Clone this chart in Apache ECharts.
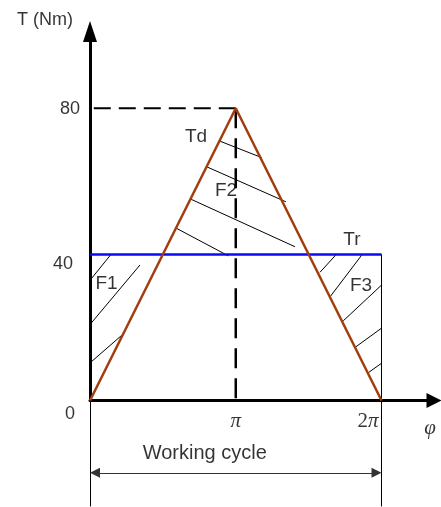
<!DOCTYPE html>
<html><head><meta charset="utf-8">
<script src="https://cdn.jsdelivr.net/npm/echarts@6/dist/echarts.min.js"></script>
<style>html,body{margin:0;padding:0;background:#fff}#c{width:441px;height:507px}</style>
</head><body><div id="c"></div>
<script>
// ---- data (x in units of π rad, y in Nm) ----
const tdCurve = [[0, 0], [1, 80], [2, 0]];        // driving torque Td
const trLevel = [[0, 40], [2, 40]];               // resisting torque Tr
const peakGuideH = [[1, 80], [0, 80]];
const peakGuideV = [[1, 80], [1, 0]];
const hatchF1 = [[0, 32.9, 0.144, 40], [0, 20.8, 0.343, 37.1], [0, 10.3, 0.228, 18.2]];
const hatchF2 = [[0.892, 71.0, 1.178, 66.5], [0.800, 64.0, 1.344, 54.4], [0.693, 55.1, 1.406, 42.1], [0.595, 47.1, 0.949, 39.6]];
const hatchF3 = [[1.578, 35.1, 1.685, 39.8], [1.651, 28.6, 1.864, 39.8], [1.737, 21.8, 2.0, 31.6], [1.824, 14.7, 2.0, 19.8], [1.909, 7.6, 2.0, 10.2]];
const cycleBounds = [[0, 0, 0, -29], [2, 40, 2, -29]];
const cycleSpan = [0, -19.8, 2, -19.8];
const cycleText = 'Working cycle';
const yTickValues = [80, 40, 0];
const yTickLabels = ['80', '40', '0'];
const xTickValues = [1, 2];
const xTickLabels = ['π', '2π'];
const yAxisTitle = 'T (Nm)';
const xAxisTitle = 'φ';
const regionLabels = ['Td', 'F2', 'Tr', 'F1', 'F3'];
const regionAnchors = [[0.727, 72.1], [0.933, 57.4], [1.797, 43.9], [0.113, 32.0], [1.859, 31.5]];
const xMax = 2.36, yMax = 101;

// ---- styles ----
const SANS = '"Liberation Sans", Arial, sans-serif';
const SERIF = '"Liberation Serif", "Times New Roman", serif';
const PX_PER_X = 145.8;               // grid width / xMax
const ARROW = 10;                     // dimension arrow size (px)
const yTickOffsets = [[-20, 1], [-27, 10], [-20, 13.5]];
const xTickOffsets = [[0, 21], [-13.6, 21]];

function segs(arr) { return arr.map(s => ({ coords: [[s[0], s[1]], [s[2], s[3]]] })); }
function lbl(value, text, offset, extra) {
  return { value: value, name: text, label: Object.assign({ offset: offset || [0, 0] }, extra || {}) };
}

const labelData = [];
regionLabels.forEach((t, i) => labelData.push(lbl(regionAnchors[i], t, [0, 0], { fontSize: 19 })));
yTickValues.forEach((v, i) => labelData.push(lbl([0, v], yTickLabels[i], yTickOffsets[i])));
xTickValues.forEach((v, i) => labelData.push(lbl([v, 0], xTickLabels[i].replace('π', '{p|π}').replace(/^2/, '{n|2}'), xTickOffsets[i])));
labelData.push(lbl([xMax, 0], '{p|' + xAxisTitle + '}', [-4, 27.5]));
labelData.push(lbl([0, yMax], yAxisTitle, [-45, -11.5]));
labelData.push(lbl([(cycleSpan[0] + cycleSpan[2]) / 2, cycleSpan[1]], cycleText, [-31, -19], { fontSize: 20 }));

// pull the dimension line in by half an arrow so the arrow tips sit on the boundary lines
const inset = (ARROW / 2) / PX_PER_X;
const spanDrawn = [cycleSpan[0] + inset, cycleSpan[1], cycleSpan[2] - inset, cycleSpan[3]];

const chart = echarts.init(document.getElementById('c'), null, { renderer: 'canvas' });
chart.setOption({
  animation: false,
  backgroundColor: '#fff',
  grid: { left: 90, right: 7, top: 31.6, bottom: 106.5 },
  xAxis: {
    type: 'value', min: 0, max: xMax,
    axisLine: { show: true, onZero: false, lineStyle: { color: '#000', width: 3 }, symbol: ['none', 'triangle'], symbolSize: [15, 15] },
    axisTick: { show: false }, axisLabel: { show: false }, splitLine: { show: false }
  },
  yAxis: {
    type: 'value', min: 0, max: yMax,
    axisLine: { show: true, onZero: false, lineStyle: { color: '#000', width: 3 }, symbol: ['none', 'triangle'], symbolSize: [14, 21] },
    axisTick: { show: false }, axisLabel: { show: false }, splitLine: { show: false }
  },
  series: [
    { type: 'line', data: peakGuideH, symbol: 'none', clip: false, z: 2,
      lineStyle: { color: '#000', width: 2, type: [17, 8] } },
    { type: 'line', data: peakGuideV, symbol: 'none', clip: false, z: 2,
      lineStyle: { color: '#000', width: 2.5, type: [20, 10] } },
    { type: 'lines', coordinateSystem: 'cartesian2d', clip: false, z: 2,
      data: segs(hatchF1.concat(hatchF2, hatchF3)),
      lineStyle: { color: '#000', width: 1, opacity: 1 } },
    { type: 'lines', coordinateSystem: 'cartesian2d', clip: false, z: 2,
      data: segs(cycleBounds),
      lineStyle: { color: '#000', width: 1, opacity: 1 } },
    { type: 'lines', coordinateSystem: 'cartesian2d', clip: false, z: 2,
      data: segs([spanDrawn]), symbol: ['triangle', 'triangle'], symbolSize: ARROW,
      itemStyle: { color: '#000' },
      lineStyle: { color: '#333', width: 1, opacity: 1 } },
    { type: 'line', data: trLevel, symbol: 'none', clip: false, z: 3,
      lineStyle: { color: '#0a0af5', width: 2.5 } },
    { type: 'line', data: tdCurve, symbol: 'none', clip: false, z: 4,
      lineStyle: { color: '#a33c10', width: 2.5 } },
    { type: 'scatter', data: labelData, symbolSize: 0, clip: false, z: 5, silent: true,
      label: {
        show: true, position: 'inside', formatter: p => p.name,
        color: '#000', fontFamily: SANS, fontSize: 18,
        rich: {
          p: { fontFamily: SERIF, fontStyle: 'italic', fontSize: 21, color: '#000' },
          n: { fontFamily: SERIF, fontSize: 21, color: '#000' }
        }
      } }
  ]
});
</script>
</body></html>
